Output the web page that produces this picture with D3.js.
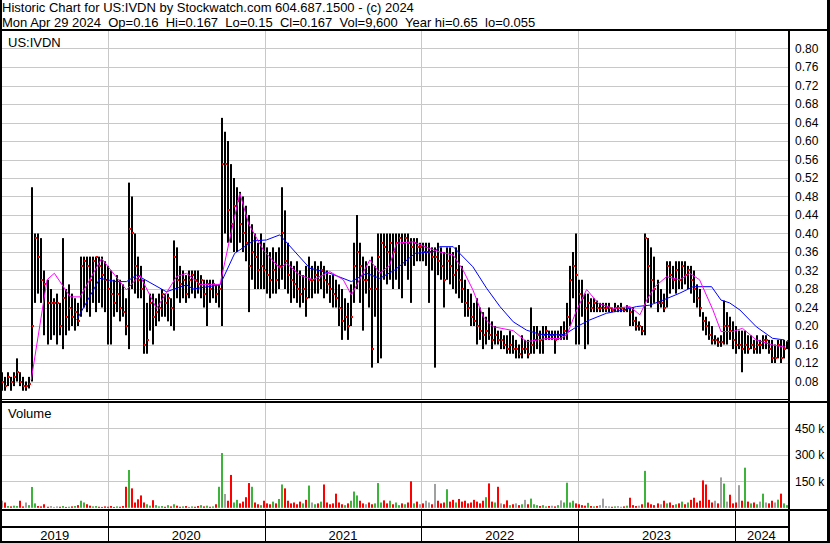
<!DOCTYPE html>
<html>
<head>
<meta charset="utf-8">
<script src="https://cdn.jsdelivr.net/npm/d3@7"></script>
<style>
  body { margin: 0; background: #fff; }
  svg { display: block; font-family: "Liberation Sans", Arial, sans-serif; }
</style>
</head>
<body>
<div id="chart"></div>
<script>
// chart data (weekly bars)
var weekStart = "2019-05-01";

var weekHigh = [
  .10,.09,.10,.09,.10,.13,.10,.09,.08,.09,
  .50,.40,.40,.39,.32,.30,.28,.26,.27,.25,
  .39,.28,.29,.27,.26,.25,.35,.35,.35,.35,
  .35,.35,.35,.35,.34,.33,.32,.30,.31,.30,
  .29,.26,.51,.48,.40,.35,.33,.30,.25,.27,
  .27,.26,.27,.28,.27,.27,.26,.385,.37,.33,
  .32,.31,.32,.32,.32,.32,.31,.30,.30,.30,
  .30,.29,.29,.65,.62,.60,.55,.52,.50,.49,
  .48,.46,.44,.42,.40,.38,.40,.38,.37,.36,
  .37,.36,.37,.50,.45,.38,.34,.33,.34,.32,
  .31,.33,.35,.33,.34,.33,.34,.33,.32,.31,
  .31,.30,.29,.28,.26,.25,.29,.38,.44,.38,
  .35,.34,.33,.35,.33,.40,.40,.40,.40,.40,
  .40,.40,.40,.40,.40,.40,.39,.39,.39,.38,
  .38,.38,.38,.37,.37,.38,.37,.36,.37,.37,
  .36,.37,.375,.33,.30,.28,.27,.25,.26,.24,
  .23,.22,.24,.21,.20,.19,.19,.18,.18,.19,
  .18,.17,.16,.18,.17,.17,.24,.20,.20,.19,
  .20,.20,.19,.19,.19,.19,.20,.21,.25,.33,
  .36,.40,.30,.30,.27,.27,.26,.26,.255,.25,
  .25,.25,.25,.24,.25,.245,.25,.24,.245,.24,
  .24,.22,.21,.20,.40,.39,.37,.35,.30,.28,
  .27,.34,.34,.33,.34,.34,.34,.34,.33,.33,
  .32,.29,.28,.23,.22,.21,.20,.18,.175,.18,
  .255,.23,.22,.21,.20,.19,.19,.19,.18,.18,
  .17,.18,.17,.18,.18,.17,.17,.16,.17,.17,
  .17,.167
];

var weekLow = [
  .06,.06,.07,.06,.07,.08,.07,.06,.06,.065,
  .08,.25,.27,.25,.18,.16,.17,.18,.16,.18,
  .15,.18,.19,.20,.19,.20,.22,.24,.23,.22,
  .25,.23,.25,.24,.23,.16,.16,.22,.23,.21,
  .22,.18,.15,.28,.27,.26,.26,.14,.14,.19,
  .16,.20,.21,.22,.22,.21,.20,.19,.26,.25,
  .26,.25,.26,.27,.26,.27,.26,.24,.20,.25,
  .26,.25,.24,.20,.40,.38,.38,.36,.36,.38,
  .36,.34,.23,.30,.28,.28,.28,.28,.27,.26,
  .27,.27,.28,.30,.28,.27,.25,.26,.25,.24,
  .25,.22,.26,.26,.27,.27,.28,.26,.27,.25,
  .24,.24,.20,.17,.19,.17,.20,.25,.28,.25,
  .19,.27,.24,.11,.22,.12,.13,.30,.29,.30,
  .28,.30,.28,.26,.33,.30,.25,.33,.34,.34,
  .34,.33,.25,.32,.11,.31,.30,.24,.30,.29,
  .28,.27,.26,.25,.22,.22,.20,.20,.16,.17,
  .15,.16,.17,.15,.16,.16,.15,.15,.14,.14,
  .14,.13,.13,.13,.14,.13,.14,.14,.15,.14,
  .14,.17,.17,.17,.14,.17,.17,.17,.17,.20,
  .26,.16,.16,.22,.15,.16,.23,.23,.23,.23,
  .23,.23,.23,.23,.23,.23,.23,.23,.23,.20,
  .20,.19,.19,.18,.18,.25,.24,.25,.23,.24,
  .23,.24,.27,.28,.27,.28,.28,.29,.28,.27,
  .25,.24,.22,.19,.18,.17,.16,.16,.155,.155,
  .16,.16,.17,.15,.14,.15,.10,.14,.14,.15,
  .14,.14,.14,.15,.15,.14,.12,.12,.13,.12,
  .13,.15
];

var weekClose = [
  .08,.07,.09,.08,.09,.10,.08,.07,.07,.075,
  .20,.39,.35,.30,.29,.25,.25,.25,.25,.20,
  .26,.22,.24,.22,.23,.21,.33,.34,.33,.30,
  .34,.35,.33,.31,.30,.28,.27,.25,.27,.24,
  .23,.20,.41,.40,.33,.30,.28,.16,.17,.25,
  .22,.23,.24,.27,.25,.26,.24,.35,.30,.29,
  .30,.27,.30,.31,.30,.29,.30,.27,.29,.28,
  .29,.27,.28,.55,.55,.45,.42,.46,.47,.42,
  .40,.38,.33,.36,.35,.32,.33,.32,.31,.30,
  .32,.30,.33,.40,.34,.31,.30,.29,.28,.27,
  .28,.26,.30,.30,.31,.30,.32,.30,.29,.28,
  .27,.26,.24,.21,.22,.20,.22,.33,.36,.33,
  .30,.30,.28,.15,.28,.35,.38,.37,.36,.38,
  .36,.38,.39,.38,.39,.38,.37,.38,.37,.37,
  .36,.36,.36,.35,.35,.34,.33,.30,.34,.33,
  .31,.32,.30,.28,.25,.24,.22,.21,.20,.19,
  .18,.19,.18,.17,.18,.17,.17,.16,.15,.16,
  .15,.15,.14,.15,.15,.14,.16,.17,.18,.17,
  .18,.19,.18,.18,.17,.18,.18,.19,.22,.30,
  .33,.31,.27,.26,.24,.25,.24,.25,.24,.24,
  .24,.24,.24,.235,.24,.24,.24,.235,.24,.23,
  .21,.20,.20,.19,.39,.33,.30,.28,.25,.25,
  .24,.33,.31,.30,.32,.30,.33,.31,.32,.30,
  .28,.26,.24,.21,.20,.18,.17,.17,.165,.165,
  .20,.20,.19,.17,.16,.16,.15,.16,.15,.16,
  .15,.16,.16,.17,.17,.15,.13,.13,.16,.13,
  .15,.167
];

// weekly volume, thousands of shares
var weekVolume = [
  40,30,10,8,12,10,40,8,30,15,
  118,25,10,8,20,6,10,5,8,6,
  10,5,6,8,10,15,40,30,20,12,
  8,10,6,5,8,6,10,5,8,6,
  10,119,214,110,30,48,70,30,20,12,
  43,15,8,10,6,15,8,20,12,6,
  8,10,5,8,6,10,15,8,12,6,
  8,20,119,310,78,40,186,30,45,25,
  35,60,140,119,30,20,15,40,25,20,
  35,25,50,132,110,40,25,30,20,35,
  25,45,126,30,20,25,35,132,30,20,
  25,80,30,20,15,25,40,92,70,40,
  25,20,30,20,25,140,30,42,25,40,
  20,30,15,25,20,30,150,25,35,20,
  25,40,30,20,135,40,25,30,105,35,
  45,30,50,35,40,25,30,45,35,25,
  40,60,138,35,30,119,25,20,42,15,
  20,25,15,20,45,20,52,20,15,10,
  15,8,10,12,8,15,42,30,142,30,
  40,25,20,15,12,28,10,8,10,15,
  52,10,8,6,8,10,6,8,12,57,
  15,10,12,20,209,30,20,15,25,20,
  40,25,30,15,20,25,35,20,30,45,
  57,30,40,155,132,45,30,40,25,172,
  137,35,74,25,30,128,40,227,35,25,
  30,20,35,80,30,25,40,30,46,80,
  25,15
];

// moving averages (magenta = short, blue = long)
var maShort = [
  ["2019-07-07",0.083],["2019-08-13",0.30],["2019-08-30",0.314],["2019-10-06",0.263],
  ["2019-10-29",0.263],["2019-12-18",0.346],["2020-02-14",0.278],["2020-03-16",0.31],
  ["2020-04-24",0.238],["2020-06-10",0.307],["2020-07-03",0.314],["2020-08-03",0.29],
  ["2020-09-19",0.29],["2020-10-12",0.39],["2020-11-04",0.487],["2020-11-25",0.42],
  ["2020-12-29",0.364],["2021-02-05",0.325],["2021-02-21",0.3355],["2021-03-24",0.31],
  ["2021-04-24",0.30],["2021-06-02",0.3175],["2021-07-03",0.30],["2021-07-22",0.267],
  ["2021-09-03",0.343],["2021-09-26",0.314],["2021-10-19",0.331],["2021-11-04",0.379],
  ["2021-12-13",0.382],["2022-01-13",0.37],["2022-02-13",0.36],["2022-03-16",0.3535],
  ["2022-04-08",0.321],["2022-05-01",0.278],["2022-05-25",0.22],["2022-06-17",0.1985],
  ["2022-08-03",0.19],["2022-09-03",0.166],["2022-10-20",0.173],["2022-11-20",0.173],
  ["2022-12-06",0.181],["2022-12-29",0.235],["2023-01-21",0.279],["2023-02-17",0.249],
  ["2023-03-24",0.238],["2023-05-02",0.242],["2023-05-25",0.224],["2023-06-10",0.256],
  ["2023-06-29",0.285],["2023-07-26",0.3065],["2023-08-26",0.30],["2023-09-18",0.314],
  ["2023-10-11",0.30],["2023-11-11",0.235],["2023-11-30",0.188],["2023-12-27",0.188],
  ["2024-01-19",0.195],["2024-02-20",0.17],["2024-03-29",0.159],["2024-04-29",0.154]
];

var maLong = [
  ["2019-10-21",0.213],["2019-12-14",0.303],["2020-01-22",0.296],["2020-02-14",0.296],
  ["2020-03-09",0.31],["2020-05-17",0.274],["2020-07-03",0.289],["2020-07-18",0.28],
  ["2020-09-19",0.289],["2020-10-23",0.357],["2020-12-05",0.384],["2021-01-05",0.386],
  ["2021-02-05",0.397],["2021-04-16",0.325],["2021-06-02",0.314],["2021-07-22",0.296],
  ["2021-08-26",0.314],["2021-09-26",0.303],["2021-10-31",0.321],["2021-12-17",0.357],
  ["2022-02-01",0.361],["2022-02-13",0.3715],["2022-03-16",0.3715],["2022-05-01",0.328],
  ["2022-06-02",0.2815],["2022-07-03",0.242],["2022-08-03",0.209],["2022-09-03",0.191],
  ["2022-10-04",0.182],["2022-11-20",0.181],["2022-12-01",0.182],["2022-12-29",0.1985],
  ["2023-01-28",0.213],["2023-03-08",0.2275],["2023-04-16",0.2346],["2023-05-17",0.242],
  ["2023-06-17",0.245],["2023-07-18",0.256],["2023-08-26",0.271],["2023-09-26",0.285],
  ["2023-11-08",0.285],["2023-11-30",0.256],["2023-12-20",0.25],["2024-01-13",0.2346],
  ["2024-02-20",0.1985],["2024-03-29",0.1734],["2024-04-25",0.17]
];

var priceTicks = [0.08,0.12,0.16,0.20,0.24,0.28,0.32,0.36,0.40,0.44,0.48,0.52,0.56,0.60,0.64,0.68,0.72,0.76,0.80];
var volumeTicks = [150000, 300000, 450000];
var yearStarts = ["2020-01-01","2021-01-01","2022-01-01","2023-01-01","2024-01-01"];
var yearLabels = ["2019","2020","2021","2022","2023","2024"];

var titleLine = "Historic Chart for US:IVDN by Stockwatch.com 604.687.1500 - (c) 2024";
var quoteLine = "Mon Apr 29 2024  Op=0.16  Hi=0.167  Lo=0.15  Cl=0.167  Vol=9,600  Year hi=0.65  lo=0.055";
var symbol = "US:IVDN";

// layout
var W = 830, H = 543;
var plotLeft = 2, plotRight = 788;
var priceTop = 31, priceBottom = 399;
var volTop = 403, volBottom = 509;

var parseDay = d3.utcParse("%Y-%m-%d");

var weeks = weekHigh.map(function(h, i){
  return { date: d3.utcDay.offset(parseDay(weekStart), 7*i), high: h, low: weekLow[i],
           close: weekClose[i], volume: weekVolume[i]*1000,
           prev: i > 0 ? weekClose[i-1] : weekClose[i] };
});

var x = d3.scaleUtc()
          .domain([parseDay("2019-04-30"), parseDay("2024-05-04")])
          .range([plotLeft, plotRight]);

var y = d3.scaleLinear().domain([0.04, 0.84]).range([400, 30]);
var yVol = d3.scaleLinear().domain([0, 600000]).range([507.8, 401.8]);

var svg = d3.select("#chart").append("svg")
            .attr("width", W).attr("height", H);

svg.append("rect").attr("width", W).attr("height", H).attr("fill", "#fff");

svg.append("defs").append("clipPath").attr("id", "clipPrice")
   .append("rect").attr("x", plotLeft).attr("y", priceTop)
   .attr("width", plotRight - plotLeft).attr("height", priceBottom - priceTop);

// header (keep the double spaces)
function keepSpaces(s){ return s.replace(/  /g, " \u00a0"); }

svg.append("text").attr("x", 2).attr("y", 12).attr("font-size", 13).text(keepSpaces(titleLine));
svg.append("text").attr("x", 2).attr("y", 27).attr("font-size", 13).text(keepSpaces(quoteLine));

// grids
var grid = svg.append("g").attr("stroke", "#c8c8c8").attr("stroke-width", 1);

grid.selectAll(".hp").data(priceTicks).enter().append("line")
    .attr("x1", plotLeft).attr("x2", plotRight)
    .attr("y1", function(d){ return Math.round(y(d)) + 0.5; })
    .attr("y2", function(d){ return Math.round(y(d)) + 0.5; });

grid.selectAll(".hv").data(volumeTicks).enter().append("line")
    .attr("x1", plotLeft).attr("x2", plotRight)
    .attr("y1", function(d){ return Math.round(yVol(d)) + 0.5; })
    .attr("y2", function(d){ return Math.round(yVol(d)) + 0.5; });

yearStarts.forEach(function(s){
  var xx = Math.round(x(parseDay(s))) + 0.5;
  grid.append("line").attr("x1", xx).attr("x2", xx).attr("y1", priceTop).attr("y2", priceBottom);
  grid.append("line").attr("x1", xx).attr("x2", xx).attr("y1", volTop).attr("y2", volBottom);
});

// price bars
var pricePlot = svg.append("g").attr("clip-path", "url(#clipPrice)");

pricePlot.append("g").attr("class", "bars")
  .selectAll("rect").data(weeks).enter().append("rect")
  .attr("x", function(d){ return Math.round(x(d.date)) - 1; })
  .attr("width", 2)
  .attr("y", function(d){ return y(d.high); })
  .attr("height", function(d){ return Math.max(1, y(d.low) - y(d.high)); })
  .attr("fill", "#000");

pricePlot.append("g").attr("class", "closes")
  .selectAll("rect").data(weeks).enter().append("rect")
  .attr("x", function(d){ return Math.round(x(d.date)); })
  .attr("y", function(d){ return Math.round(y(d.close)) - 1; })
  .attr("width", 2).attr("height", 2)
  .attr("fill", "#ff0000");

var maLine = d3.line()
               .x(function(d){ return x(parseDay(d[0])); })
               .y(function(d){ return y(d[1]); });

pricePlot.append("path").datum(maLong)
  .attr("d", maLine).attr("fill", "none").attr("stroke", "#0000ff").attr("stroke-width", 1);
pricePlot.append("path").datum(maShort)
  .attr("d", maLine).attr("fill", "none").attr("stroke", "#ff00ff").attr("stroke-width", 1);

svg.append("text").attr("x", 8).attr("y", 47).attr("font-size", 13).text(symbol);

// volume bars
svg.append("g").attr("class", "volume")
  .selectAll("rect").data(weeks).enter().append("rect")
  .attr("x", function(d){ return Math.round(x(d.date)) - 1; })
  .attr("width", 2)
  .attr("y", function(d){ return yVol(d.volume); })
  .attr("height", function(d){ return yVol(0) - yVol(d.volume); })
  .attr("fill", function(d){
      if (d.close > d.prev) return "#3cb43c";
      if (d.close < d.prev) return "#ff0000";
      return "#a0a0a0";
  });

svg.append("text").attr("x", 8).attr("y", 418).attr("font-size", 13).text("Volume");

// right axis labels
svg.append("g").selectAll("text").data(priceTicks).enter().append("text")
   .attr("x", 795).attr("y", function(d){ return y(d); })
   .attr("dy", "0.35em").attr("font-size", 12)
   .text(function(d){ return d3.format(".2f")(d); });

svg.append("g").selectAll("text").data(volumeTicks).enter().append("text")
   .attr("x", 795).attr("y", function(d){ return yVol(d); })
   .attr("dy", "0.35em").attr("font-size", 12)
   .text(function(d){ return (d/1000) + " k"; });

// frame
var frame = svg.append("g").attr("fill", "#000");
frame.append("rect").attr("x", 0).attr("y", 29).attr("width", W).attr("height", 2);
frame.append("rect").attr("x", 0).attr("y", 399).attr("width", 788).attr("height", 1);
frame.append("rect").attr("x", 0).attr("y", 401).attr("width", W).attr("height", 2);
frame.append("rect").attr("x", 0).attr("y", 509).attr("width", W).attr("height", 2);
frame.append("rect").attr("x", 0).attr("y", 526).attr("width", 788).attr("height", 2);
frame.append("rect").attr("x", 0).attr("y", 541).attr("width", W).attr("height", 2);
frame.append("rect").attr("x", 0).attr("y", 0).attr("width", 2).attr("height", H);
frame.append("rect").attr("x", 827).attr("y", 0).attr("width", 3).attr("height", H);
frame.append("rect").attr("x", 788).attr("y", 29).attr("width", 2).attr("height", H - 29);

// bottom year strip
var bounds = [x.range()[0]].concat(yearStarts.map(function(s){ return x(parseDay(s)); }), [x.range()[1]]);

yearStarts.forEach(function(s){
  var xx = Math.round(x(parseDay(s)));
  frame.append("rect").attr("x", xx).attr("y", 511).attr("width", 1).attr("height", 30);
});

svg.append("g").selectAll("text").data(yearLabels).enter().append("text")
   .attr("x", function(d, i){ return (bounds[i] + bounds[i+1]) / 2; })
   .attr("y", 540).attr("font-size", 13).attr("text-anchor", "middle")
   .text(function(d){ return d; });
</script>
</body>
</html>
